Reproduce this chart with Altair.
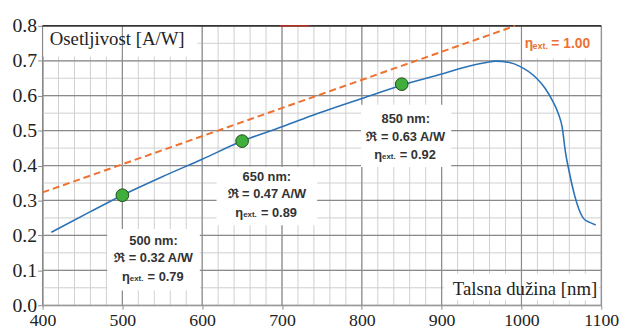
import altair as alt
import pandas as pd

# ---- data -------------------------------------------------------------
wavelength = [411, 430, 460, 500, 550, 600, 650, 700, 730, 800, 850, 900, 940,
              956, 967, 985, 998, 1018, 1030, 1039, 1046, 1051, 1055, 1060, 1067,
              1072, 1078, 1085, 1093]
responsivity = [0.209, 0.232, 0.268, 0.315, 0.368, 0.418, 0.470, 0.511, 0.537,
                0.592, 0.630, 0.662, 0.688, 0.695, 0.699, 0.695, 0.684, 0.652,
                0.620, 0.585, 0.550, 0.510, 0.440, 0.380, 0.311, 0.275, 0.248,
                0.238, 0.230]

ideal_wl = [400, 992]
ideal_resp = [0.323, 0.800]

pts_wl = [500, 650, 850]
pts_resp = [0.315, 0.470, 0.633]

# annotation boxes (data coordinates)
ann_head = ["500 nm:", "650 nm:", "850 nm:"]
ann_resp = ["\u211c = 0.32 A/W", "\u211c = 0.47 A/W", "\u211c = 0.63 A/W"]
ann_eta = ["= 0.79", "= 0.89", "= 0.92"]
ann_cx = [539, 681, 855]
ann_x1 = [481, 618, 799]
ann_x2 = [597, 744, 912]
ann_y1 = [0.042, 0.229, 0.396]
ann_y2 = [0.218, 0.396, 0.574]
ann_l1 = [0.184, 0.367, 0.534]
ann_l2 = [0.136, 0.317, 0.481]
ann_l3 = [0.082, 0.263, 0.430]

x_ticks = [400, 500, 600, 700, 800, 900, 1000, 1100]
y_ticks = [0.0, 0.1, 0.2, 0.3, 0.4, 0.5, 0.6, 0.7, 0.8]
x_minor = list(range(400, 1101, 20))
y_minor = [round(i * 0.05, 2) for i in range(17)]

y_title = "Osetljivost [A/W]"
x_title = "Talsna dužina [nm]"

# ---- helpers ----------------------------------------------------------
W, H = 566, 283
xs = alt.Scale(domain=[400, 1100], nice=False, zero=False)
ys = alt.Scale(domain=[0, 0.8], nice=False, zero=True)

serif = "'Liberation Serif', 'Times New Roman', 'DejaVu Serif', serif"
sans = "'Liberation Sans', Arial, sans-serif"
ORANGE = "#ee7130"
BLUE = "#2c72b6"

x_axis = alt.Axis(values=x_ticks, format="d", grid=False,
                  labelFont=serif, labelFontSize=18, labelColor="#222",
                  domainColor="#8a8a8a", tickColor="#8a8a8a", tickSize=4,
                  labelPadding=3, labelFlush=False, title=None)
y_axis = alt.Axis(values=y_ticks, format=".1f", grid=False,
                  labelFont=serif, labelFontSize=20, labelColor="#222",
                  domainColor="#8a8a8a", tickColor="#8a8a8a", tickSize=5,
                  labelPadding=1, labelFlush=False, title=None)

def X(f):
    return alt.X(f, type="quantitative", scale=xs, axis=x_axis, title=None)

def Y(f):
    return alt.Y(f, type="quantitative", scale=ys, axis=y_axis, title=None)

# grid
minor_v = alt.Chart(pd.DataFrame({"x": x_minor})).mark_rule(
    color="#cfcfcf", strokeWidth=1).encode(x=X("x"))
minor_h = alt.Chart(pd.DataFrame({"y": y_minor})).mark_rule(
    color="#cfcfcf", strokeWidth=1).encode(y=Y("y"))

# title boxes
tb = pd.DataFrame({"x1": [400, 903, 998], "x2": [594, 1097, 1100],
                   "y1": [0.712, 0.014, 0.707], "y2": [0.8, 0.09, 0.797]})
title_boxes = alt.Chart(tb).mark_rect(color="white").encode(
    x=X("x1"), x2="x2", y=Y("y1"), y2="y2")

major_v = alt.Chart(pd.DataFrame({"x": x_ticks})).mark_rule(
    color="#8a8a8a", strokeWidth=1.2).encode(x=X("x"))
major_h = alt.Chart(pd.DataFrame({"y": y_ticks})).mark_rule(
    color="#8a8a8a", strokeWidth=1.2).encode(y=Y("y"))

top_border = alt.Chart(pd.DataFrame({"x": [400], "x2": [1100], "y": [0.8]})).mark_rule(
    color="#111", strokeWidth=1.3).encode(x=X("x"), x2="x2", y=Y("y"))
red_seg = alt.Chart(pd.DataFrame({"x": [697], "x2": [735], "y": [0.8]})).mark_rule(
    color="#d03020", strokeWidth=1.3).encode(x=X("x"), x2="x2", y=Y("y"))

ideal = alt.Chart(pd.DataFrame({"x": ideal_wl, "y": ideal_resp})).mark_line(
    color=ORANGE, strokeWidth=2, strokeDash=[7, 4]).encode(x=X("x"), y=Y("y"))

curve = alt.Chart(pd.DataFrame({"x": wavelength, "y": responsivity})).mark_line(
    color=BLUE, strokeWidth=1.6, interpolate="monotone").encode(x=X("x"), y=Y("y"))

# annotation boxes
ann = pd.DataFrame({"cx": ann_cx, "x1": ann_x1, "x2": ann_x2, "y1": ann_y1,
                    "y2": ann_y2, "l1": ann_l1, "l2": ann_l2, "l3": ann_l3,
                    "head": ann_head, "resp": ann_resp, "eta": ann_eta})
abox = alt.Chart(ann).mark_rect(color="white").encode(
    x=X("x1"), x2="x2", y=Y("y1"), y2="y2")

txt = dict(font=sans, fontWeight="bold", fontSize=13, color="#333333",
           baseline="middle")
t1 = alt.Chart(ann).mark_text(align="center", **txt).encode(
    x=X("cx"), y=Y("l1"), text="head:N")
t2 = alt.Chart(ann).mark_text(align="center", **txt).encode(
    x=X("cx"), y=Y("l2"), text="resp:N")
t3a = alt.Chart(ann).mark_text(align="left", dx=-32, **txt).encode(
    x=X("cx"), y=Y("l3"), text=alt.value("\u03b7"))
t3b = alt.Chart(ann).mark_text(align="left", dx=-24, dy=2, font=sans,
                               fontWeight="bold", fontSize=8, color="#333333",
                               baseline="middle").encode(
    x=X("cx"), y=Y("l3"), text=alt.value("ext."))
t3c = alt.Chart(ann).mark_text(align="left", dx=-6, **txt).encode(
    x=X("cx"), y=Y("l3"), text="eta:N")

pts = alt.Chart(pd.DataFrame({"x": pts_wl, "y": pts_resp})).mark_point(
    shape="circle", filled=True, size=165, color="#3fae3a", stroke="#1f4d1a",
    strokeWidth=1, opacity=1).encode(x=X("x"), y=Y("y"))

# orange label
ol = pd.DataFrame({"x": [1004], "y": [0.749]})
o1 = alt.Chart(ol).mark_text(align="left", font=sans, fontWeight="bold",
                             fontSize=14, color=ORANGE, baseline="middle").encode(
    x=X("x"), y=Y("y"), text=alt.value("\u03b7"))
o2 = alt.Chart(ol).mark_text(align="left", dx=8, dy=2, font=sans, fontWeight="bold",
                             fontSize=9, color=ORANGE, baseline="middle").encode(
    x=X("x"), y=Y("y"), text=alt.value("ext."))
o3 = alt.Chart(ol).mark_text(align="left", dx=27, font=sans, fontWeight="bold",
                             fontSize=14, color=ORANGE, baseline="middle").encode(
    x=X("x"), y=Y("y"), text=alt.value("= 1.00"))

# axis titles inside plot
yt = alt.Chart(pd.DataFrame({"x": [409], "y": [0.763], "t": [y_title]})).mark_text(
    align="left", baseline="middle", font=serif, fontSize=19, color="#222").encode(
    x=X("x"), y=Y("y"), text="t:N")
xt = alt.Chart(pd.DataFrame({"x": [1095], "y": [0.046], "t": [x_title]})).mark_text(
    align="right", baseline="middle", font=serif, fontSize=19, color="#222").encode(
    x=X("x"), y=Y("y"), text="t:N")

chart = alt.layer(
    minor_v, minor_h, title_boxes, major_v, major_h, top_border, red_seg,
    ideal, curve, abox, pts, t1, t2, t3a, t3b, t3c, o1, o2, o3, yt, xt
).properties(
    width=W, height=H,
    autosize=alt.AutoSizeParams(type="none"),
    padding={"left": 35, "top": 16, "right": 22, "bottom": 23},
).configure_view(stroke=None).configure(background="white")

chart.save("out.html", embed_options={"renderer": "svg", "actions": False})
